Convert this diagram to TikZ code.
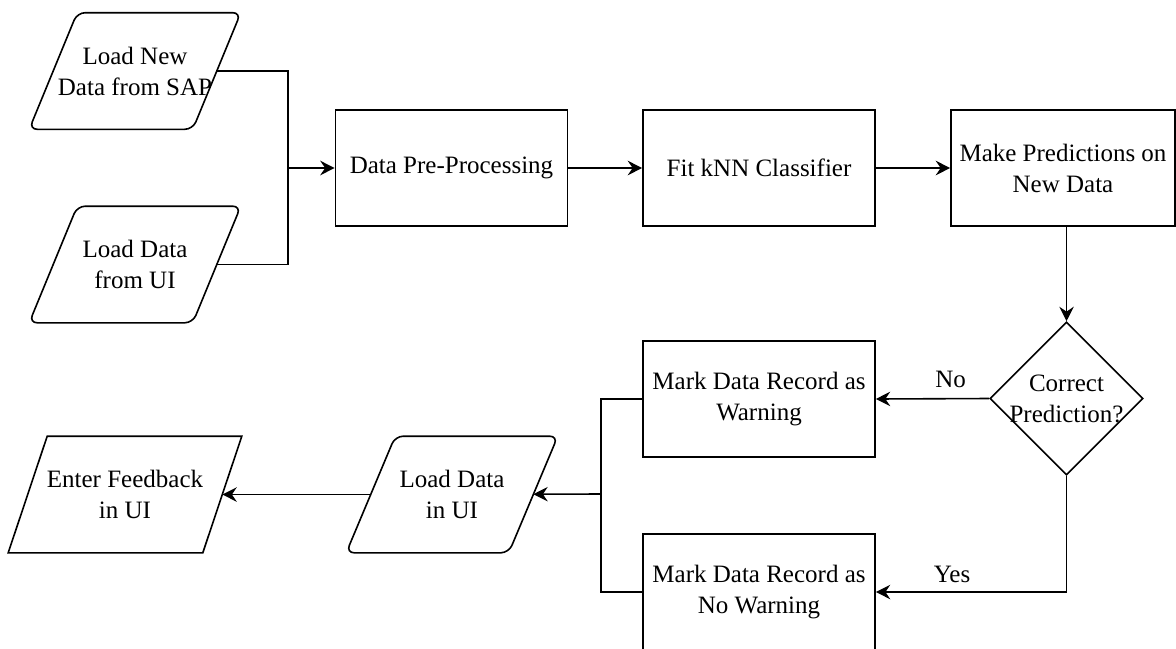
\documentclass[tikz,border=0pt]{standalone}
\usepackage{fontspec}
\setmainfont{Liberation Serif}
\usetikzlibrary{arrows.meta, shapes.geometric, positioning}

% text that may run over a pointed border
\newcommand{\zerow}[1]{\makebox[0pt]{#1}}

\tikzset{
  process/.style={draw, rectangle, minimum width=116pt, minimum height=58pt,
                  inner sep=0pt, align=center},
  % the node is the mid-height band of a parallelogram; its outline is drawn below
  iobox/.style={rectangle, minimum width=81pt, minimum height=57.5pt,
                inner sep=0pt, align=center},
  decision/.style={draw, diamond, minimum width=76.5pt, minimum height=76.5pt,
                   inner sep=0pt, align=center},
}

\begin{document}
\begin{tikzpicture}[x=0.5pt, y=-0.5pt, line width=0.8pt,
    >={Stealth[length=7.2pt,width=7.2pt,inset=2.4pt]},
    font=\fontsize{12.5pt}{15.5pt}\selectfont]
  \useasboundingbox (0,0) rectangle (1176,648);
  % inputs
  \node[iobox] (sap) at (135,71) {Load New\\Data from SAP};
  \node[iobox] (uiload) at (135,264.5) {Load Data\\from UI};
  \coordinate (join) at (288,168);
  % main line
  \node[process] (prep) at (451.5,168) {Data Pre-Processing};
  \node[process] (knn) at (759,168) {Fit kNN Classifier};
  \node[process, minimum width=112pt] (pred) at (1063,168) {Make Predictions on\\New Data};
  \node[decision] (check) at (1066.5,398.5) {\zerow{Correct}\\\zerow{Prediction?}};
  % outcomes
  \node[process] (warn) at (759,399) {Mark Data Record as\\Warning};
  \node[process] (nowarn) at (759,592) {Mark Data Record as\\No Warning};
  \coordinate (fork) at (601,494);
  \node[iobox, minimum width=80.5pt] (showui) at (452,494.5) {Load Data\\in UI};
  \node[iobox, minimum width=96.5pt] (feedback) at (125,494.5) {Enter Feedback\\in UI};

  % parallelogram outlines
  \foreach \n/\s in {sap/12pt, uiload/12pt, showui/12.25pt}
    \draw[rounded corners=4pt] ([xshift=\s]\n.north west) -- ([xshift=\s]\n.north east)
      -- ([xshift=-\s]\n.south east) -- ([xshift=-\s]\n.south west) -- cycle;
  \draw ([xshift=9.75pt]feedback.north west) -- ([xshift=9.75pt]feedback.north east)
    -- ([xshift=-9.75pt]feedback.south east) -- ([xshift=-9.75pt]feedback.south west) -- cycle;

  % connectors
  \draw (sap.east) -| (join) |- (uiload.east);
  \draw[->] (join) -- (prep);
  \draw[->] (prep) -- (knn);
  \draw[->] (knn) -- (pred);
  \draw[->] (pred.south -| check.north) -- (check.north);
  \draw[->] (check.west) -- node[pos=0.34, above=1.5pt] {No} (warn.east);
  \draw[->] (check.south) |- node[pos=0.8, above=1pt] {Yes} (nowarn.east);
  \draw (warn.west) -| (fork) |- (nowarn.west);
  \draw[->] (fork) -- (showui);
  \draw[->] (showui) -- (feedback);
\end{tikzpicture}
\end{document}
